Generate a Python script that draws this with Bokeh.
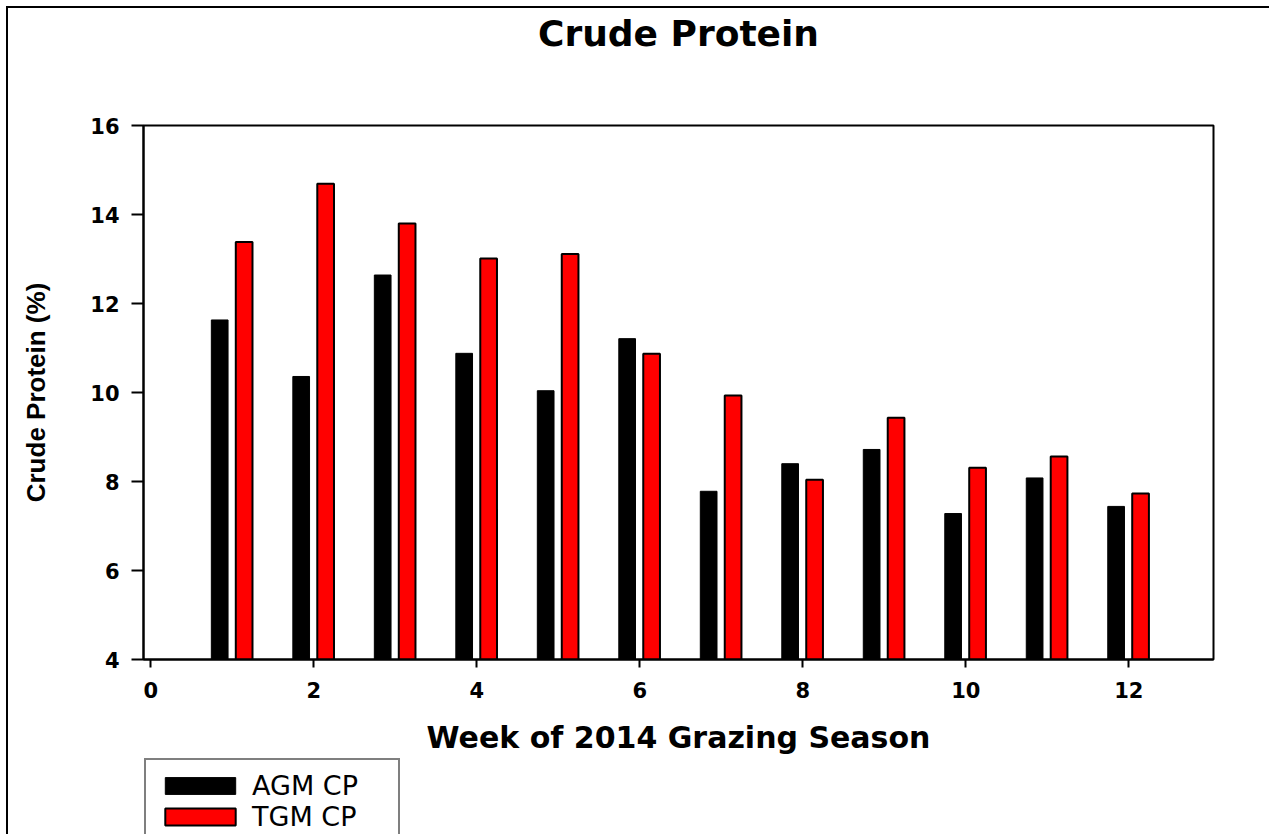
from bokeh.plotting import figure
from bokeh.layouts import column, row
from bokeh.models import ColumnDataSource, Legend, LegendItem, Range1d, FixedTicker, Div
from bokeh.transform import dodge
from bokeh.embed import file_html
from bokeh.resources import INLINE

# ---- data ----
weeks = [1, 2, 3, 4, 5, 6, 7, 8, 9, 10, 11, 12]
agm_cp = [11.63, 10.36, 12.64, 10.88, 10.04, 11.21, 7.78, 8.40, 8.72, 7.28, 8.08, 7.44]
tgm_cp = [13.38, 14.69, 13.80, 13.01, 13.11, 10.87, 9.93, 8.04, 9.43, 8.31, 8.56, 7.73]
x_ticks = [0, 2, 4, 6, 8, 10, 12]
y_ticks = [4, 6, 8, 10, 12, 14, 16]
series_labels = ["AGM CP", "TGM CP"]
chart_title = "Crude Protein"
x_label = "Week of 2014 Grazing Season"
y_label = "Crude Protein (%)"

src = ColumnDataSource(dict(week=weeks, agm=agm_cp, tgm=tgm_cp))
x_rng = Range1d(-0.09, 13.04)

W = 1261
ML = 135
MR = W - ML - 1070
H_T, H_P, H_L = 60, 689, 77

# ---- title strip ----
tf = figure(width=W, height=H_T, output_backend="svg", toolbar_location=None,
            x_axis_type=None, y_axis_type=None, x_range=Range1d(0, 1), y_range=Range1d(0, 1),
            min_border_left=ML, min_border_right=MR, min_border_top=0, min_border_bottom=0)
tf.outline_line_color = None
tf.border_fill_color = "white"
tf.title.text = chart_title
tf.title.align = "center"
tf.title.text_font = "DejaVu Sans"
tf.title.text_font_style = "bold"
tf.title.text_font_size = "36px"
tf.title.text_color = "black"
tf.title.standoff = 5

# ---- main chart ----
p = figure(
    width=W, height=H_P,
    output_backend="svg", toolbar_location=None,
    x_range=x_rng, y_range=Range1d(4, 16),
    min_border_left=ML, min_border_right=MR,
    min_border_top=57, min_border_bottom=98,
)
p.background_fill_color = "white"
p.border_fill_color = "white"
p.outline_line_color = "black"
p.outline_line_width = 2
p.xgrid.visible = False
p.ygrid.visible = False

p.vbar(x=dodge("week", -0.155), top="agm", bottom=4, width=0.205, source=src,
       fill_color="black", line_color="black", line_width=1)
p.vbar(x=dodge("week", 0.145), top="tgm", bottom=4, width=0.205, source=src,
       fill_color="#ff0000", line_color="black", line_width=2)

for ax in (p.xaxis[0], p.yaxis[0]):
    ax.axis_line_width = 2
    ax.axis_line_color = "black"
    ax.major_tick_line_width = 2
    ax.major_tick_line_color = "black"
    ax.major_tick_in = 0
    ax.minor_tick_line_color = None
    ax.major_label_text_font = "DejaVu Sans"
    ax.major_label_text_font_style = "bold"
    ax.major_label_text_font_size = "21px"
    ax.major_label_text_color = "black"
    ax.axis_label_text_font_style = "bold"
    ax.axis_label_text_color = "black"

p.xaxis.ticker = FixedTicker(ticks=x_ticks)
p.yaxis.ticker = FixedTicker(ticks=y_ticks)
p.xaxis.major_tick_out = 8
p.yaxis.major_tick_out = 12
p.xaxis.major_label_standoff = 14
p.yaxis.major_label_standoff = 12

p.xaxis.axis_label = x_label
p.xaxis.axis_label_text_font = "DejaVu Sans"
p.xaxis.axis_label_text_font_size = "30px"
p.xaxis.axis_label_standoff = 19

p.yaxis.axis_label = y_label
p.yaxis.axis_label_text_font = "Liberation Sans"
p.yaxis.axis_label_text_font_size = "26px"
p.yaxis.axis_label_standoff = 36

# ---- legend strip ----
lf = figure(width=W, height=H_L, output_backend="svg", toolbar_location=None,
            x_axis_type=None, y_axis_type=None, x_range=x_rng, y_range=Range1d(100, 101),
            min_border_left=127, min_border_right=0, min_border_top=0, min_border_bottom=0)
lf.outline_line_color = None
lf.border_fill_color = "white"
lr1 = lf.vbar(x=dodge("week", -0.155), top="agm", bottom=4, width=0.205, source=src,
              fill_color="black", line_color="black", line_width=1)
lr2 = lf.vbar(x=dodge("week", 0.145), top="tgm", bottom=4, width=0.205, source=src,
              fill_color="#ff0000", line_color="black", line_width=2)
lr1.visible = False
lr2.visible = False

legend = Legend(
    items=[LegendItem(label=series_labels[0], renderers=[lr1]),
           LegendItem(label=series_labels[1], renderers=[lr2])],
    location="top_left", orientation="vertical",
    glyph_width=88, glyph_height=21, label_standoff=8,
    padding=10, spacing=-3, margin=1, label_width=136,
    border_line_color="black", border_line_width=2,
    background_fill_color="white", background_fill_alpha=1,
    inactive_fill_alpha=0,
    label_text_font="DejaVu Sans", label_text_font_size="27px",
    label_text_color="black",
)
lf.add_layout(legend)

# ---- outer page frame (left and top edges) ----
top_edge = Div(text="", width=W + 2, height=2, margin=0,
               styles={"background-color": "black"})
left_edge = Div(text="", width=2, height=H_T + H_P + H_L, margin=0,
                styles={"background-color": "black"})

charts = column(tf, p, lf, spacing=0)
layout = column(top_edge, row(left_edge, charts, spacing=0), spacing=0,
                styles={"margin-left": "6px", "margin-top": "6px"})

open("out.html", "w").write(file_html(layout, INLINE))
